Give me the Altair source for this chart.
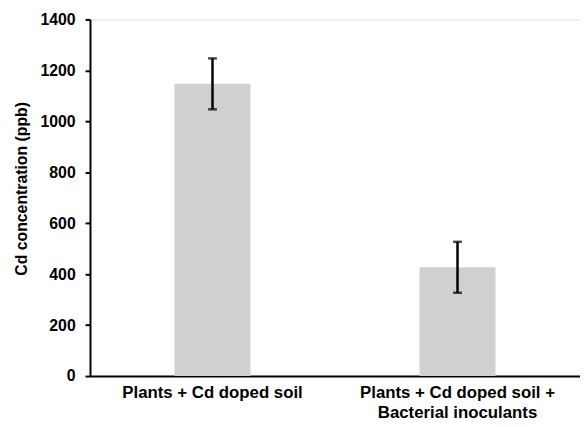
import altair as alt
import pandas as pd

categories = ["Plants + Cd doped soil", "Plants + Cd doped soil +\nBacterial inoculants"]
values = [1147, 427]
errors = [100, 100]

df = pd.DataFrame({
    "cat": categories,
    "val": values,
    "lo": [v - e for v, e in zip(values, errors)],
    "hi": [v + e for v, e in zip(values, errors)],
})

FONT = "Liberation Sans"
TITLE = "Cd concentration (ppb)"

x = alt.X("cat:N", sort=categories, title=None,
          scale=alt.Scale(paddingInner=0.69, paddingOuter=0.345),
          axis=alt.Axis(labelAngle=0, ticks=False, labelLimit=0, labelBaseline="top",
                        labelFontSize=17, labelPadding=9, labelLineHeight=20,
                        labelExpr="split(datum.label, '\\n')"))

yscale = alt.Scale(domain=[0, 1400])
yaxis = alt.Axis(values=[0, 200, 400, 600, 800, 1000, 1200, 1400], grid=False, format="d",
                 tickSize=5, labelPadding=10, titlePadding=11, titleY=171)

bars = alt.Chart(df).mark_bar(color="#d0d0d0").encode(
    x=x,
    y=alt.Y("val:Q", title=TITLE, scale=yscale, axis=yaxis),
)

rules = alt.Chart(df).mark_rule(color="black", strokeWidth=2.5).encode(
    x=x, y=alt.Y("lo:Q", title=TITLE, scale=yscale, axis=yaxis), y2="hi:Q")

caps_lo = alt.Chart(df).mark_tick(color="black", thickness=2.5, size=9, orient="horizontal").encode(
    x=x, y=alt.Y("lo:Q", title=TITLE, scale=yscale, axis=yaxis))
caps_hi = alt.Chart(df).mark_tick(color="black", thickness=2.5, size=9, orient="horizontal").encode(
    x=x, y=alt.Y("hi:Q", title=TITLE, scale=yscale, axis=yaxis))

chart = alt.layer(bars, rules, caps_lo, caps_hi).properties(
    width=496, height=361,
    autosize=alt.AutoSizeParams(type="none"),
    padding={"left": 83, "top": 9, "right": 0, "bottom": 49},
).configure_view(stroke=None).configure(background="white").configure_axis(
    domainColor="black", domainWidth=2, tickColor="black", tickWidth=2,
    labelFont=FONT, labelFontWeight="bold", labelColor="black", labelFontSize=16,
    titleFont=FONT, titleFontWeight="bold", titleColor="black", titleFontSize=16,
)

chart.save("out.html", embed_options={"renderer": "svg", "actions": False})
